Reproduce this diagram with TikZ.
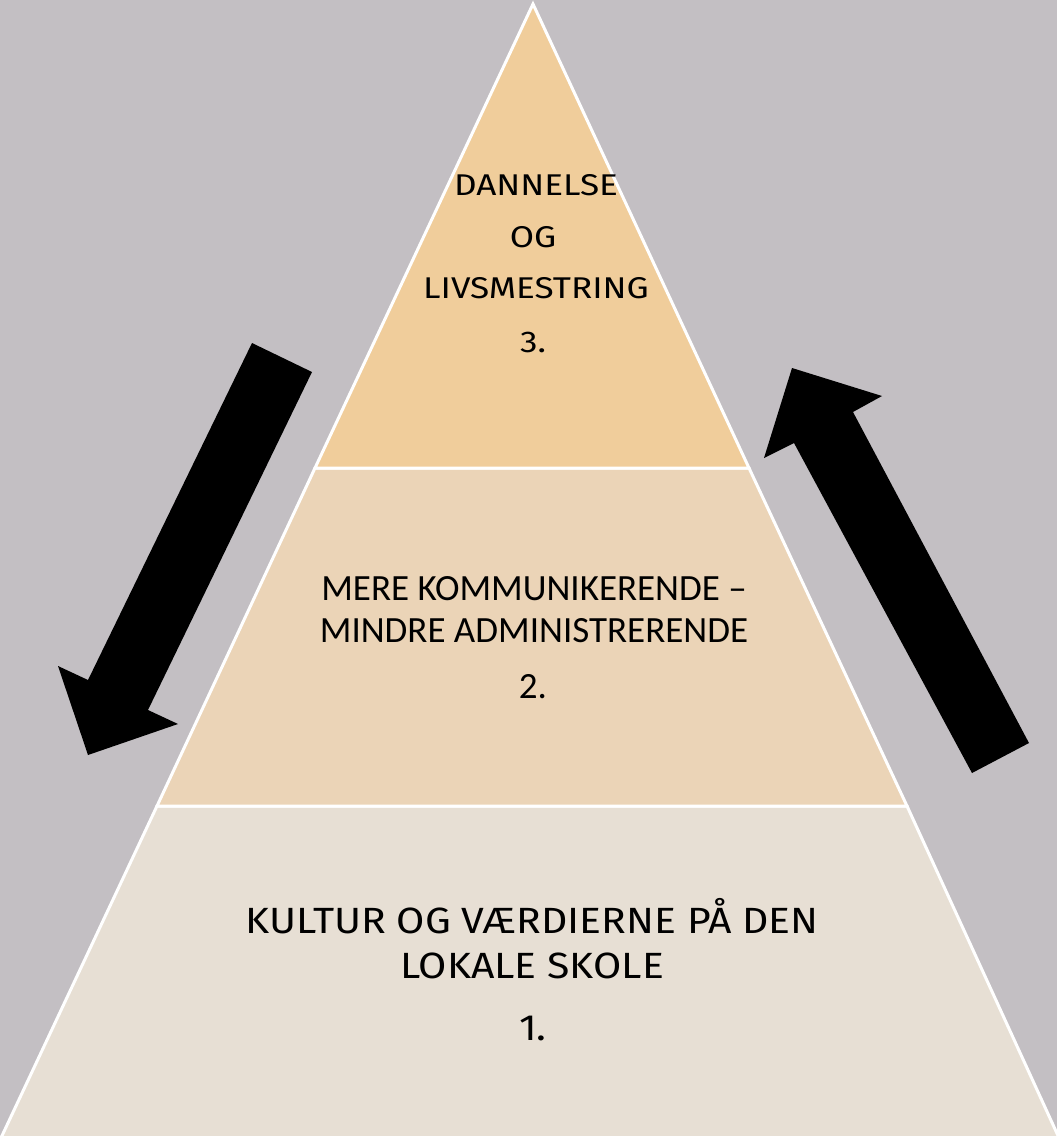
\documentclass[tikz,border=0pt]{standalone}
\usepackage{fontspec}
\setmainfont{Fira Sans}
\newfontfamily\topfont[FakeStretch=1.17]{Fira Sans}
\newfontfamily\botfont[FakeStretch=1.12]{Fira Sans}
\newfontfamily\calfont{Carlito}
\definecolor{bg}{HTML}{C3BFC3}
\definecolor{tierA}{HTML}{F0CD9B}
\definecolor{tierB}{HTML}{EBD4B7}
\definecolor{tierC}{HTML}{E7DFD4}
\tikzset{
  tier/.style={draw=white, line width=3pt, line join=miter},
  blockarrow/.style={fill=black, draw=none},
  lblA/.style={anchor=base, inner sep=0pt, font=\topfont\fontsize{30}{30}\selectfont},
  lblB/.style={anchor=base, inner sep=0pt, font=\calfont\fontsize{37}{37}\selectfont},
  lblC/.style={anchor=base, inner sep=0pt, font=\botfont\fontsize{36.5}{36.5}\selectfont},
}
\begin{document}
\begin{tikzpicture}[x=1pt,y=-1pt]
\useasboundingbox (0,0) rectangle (1057,1136);
\fill[bg] (0,0) rectangle (1057,1136);
% tiers
\filldraw[tier, fill=tierC] (157,806) -- (907,806) -- (1060,1140) -- (0,1140) -- cycle;
\filldraw[tier, fill=tierB] (315,468) -- (749,468) -- (907,806) -- (157,806) -- cycle;
\filldraw[tier, fill=tierA] (533,4) -- (749,468) -- (315,468) -- cycle;
% arrows
\fill[blockarrow] (252,343) -- (312,372) -- (148,710) -- (178,724) -- (88,755) -- (58,666) -- (88,680) -- cycle;
\fill[blockarrow] (972,773) -- (1029,743) -- (853,412) -- (882,396) -- (792,368) -- (764,458) -- (794,443) -- cycle;
% top labels
\node[lblA] (t1) at (536,195) {DANNELSE};
\node[lblA] (t2) at (533,247) {OG};
\node[lblA] (t3) at (536,298) {LIVSMESTRING};
\node[lblA] (t4) at (533,352) {3.};
% middle labels
\node[lblB] (m1) at (534,600) {MERE KOMMUNIKERENDE –};
\node[lblB] (m2) at (534,642) {MINDRE ADMINISTRERENDE};
\node[lblB] (m3) at (533,698) {2.};
% bottom labels
\node[lblC] (b1) at (532,933) {KULTUR OG VÆRDIERNE PÅ DEN};
\node[lblC] (b2) at (532,978) {LOKALE SKOLE};
\node[lblC] (b3) at (533,1040) {1.};
\end{tikzpicture}
\end{document}
